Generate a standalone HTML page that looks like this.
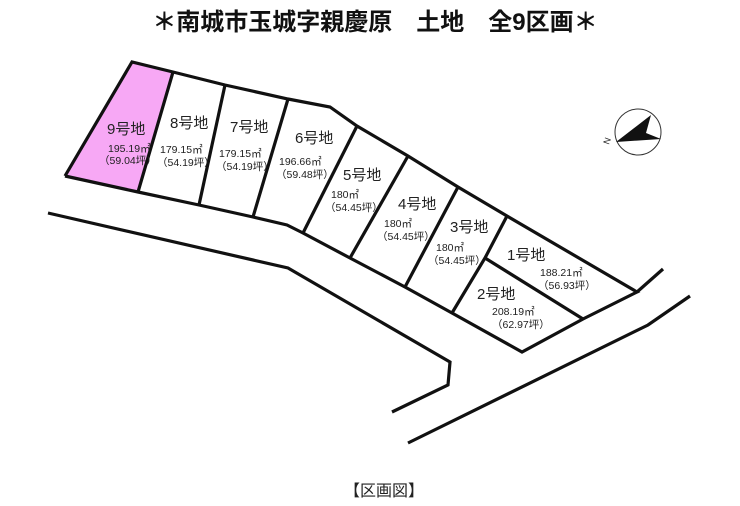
<!DOCTYPE html>
<html><head><meta charset="utf-8"><style>
body{margin:0;background:#fff;width:740px;height:501px;overflow:hidden}
svg text{font-family:"Liberation Sans","Noto Sans CJK JP",sans-serif;fill:#222}
.l{font-size:15px}.s{font-size:10.5px}
</style></head><body>
<svg width="740" height="501" viewBox="0 0 740 501">
<text x="375" y="30" font-size="24" font-weight="bold" text-anchor="middle" style="fill:#111">＊南城市玉城字親慶原　土地　全9区画＊</text>
<polygon points="132,62 173,72 138,192 65,176" fill="#f7a8f5"/>
<g fill="none" stroke="#111" stroke-width="3.2" stroke-linejoin="miter">
<polyline points="65,176 132,62 173,72 225,85 288,99 330,107 357,126 408,156 458,187 507,216 637,292 583,319 522,352 452,313 405,287 350,258 303,233 287,225 253,217 199,205 138,192 65,176"/>
<line x1="173" y1="72" x2="138" y2="192"/>
<line x1="225" y1="85" x2="199" y2="205"/>
<line x1="288" y1="99" x2="253" y2="217"/>
<line x1="357" y1="126" x2="303" y2="233"/>
<line x1="408" y1="156" x2="350" y2="258"/>
<line x1="458" y1="187" x2="405" y2="287"/>
<polyline points="507,216 485,258 452,313"/>
<line x1="485" y1="258" x2="583" y2="319"/>
<line x1="637" y1="292" x2="663" y2="269"/>
<polyline points="48,213 288,268 450,362 448,385 392,412"/>
<polyline points="690,296 648,325 408,443"/>
</g>
<circle cx="638" cy="132" r="23" fill="none" stroke="#333" stroke-width="1"/>
<polygon points="651,115 646,133 661,139 616,142" fill="#111"/>
<text x="606" y="147" font-size="9" transform="rotate(-70 606 144)">N</text>
<text class="l" x="107" y="134">9号地</text>
<text class="s" x="108" y="152">195.19㎡</text><text class="s" x="99" y="164">（59.04坪）</text>
<text class="l" x="170" y="128">8号地</text>
<text class="s" x="160" y="153">179.15㎡</text><text class="s" x="157" y="166">（54.19坪）</text>
<text class="l" x="230" y="132">7号地</text>
<text class="s" x="219" y="157">179.15㎡</text><text class="s" x="216" y="170">（54.19坪）</text>
<text class="l" x="295" y="143">6号地</text>
<text class="s" x="279" y="165">196.66㎡</text><text class="s" x="276" y="178">（59.48坪）</text>
<text class="l" x="343" y="180">5号地</text>
<text class="s" x="331" y="198">180㎡</text><text class="s" x="325" y="211">（54.45坪）</text>
<text class="l" x="398" y="209">4号地</text>
<text class="s" x="384" y="227">180㎡</text><text class="s" x="377" y="240">（54.45坪）</text>
<text class="l" x="450" y="232">3号地</text>
<text class="s" x="436" y="251">180㎡</text><text class="s" x="428" y="264">（54.45坪）</text>
<text class="l" x="507" y="260">1号地</text>
<text class="s" x="540" y="276">188.21㎡</text><text class="s" x="538" y="289">（56.93坪）</text>
<text class="l" x="477" y="299">2号地</text>
<text class="s" x="492" y="315">208.19㎡</text><text class="s" x="492" y="328">（62.97坪）</text>
<text x="384" y="496" font-size="16" text-anchor="middle">【区画図】</text>
</svg>
</body></html>
